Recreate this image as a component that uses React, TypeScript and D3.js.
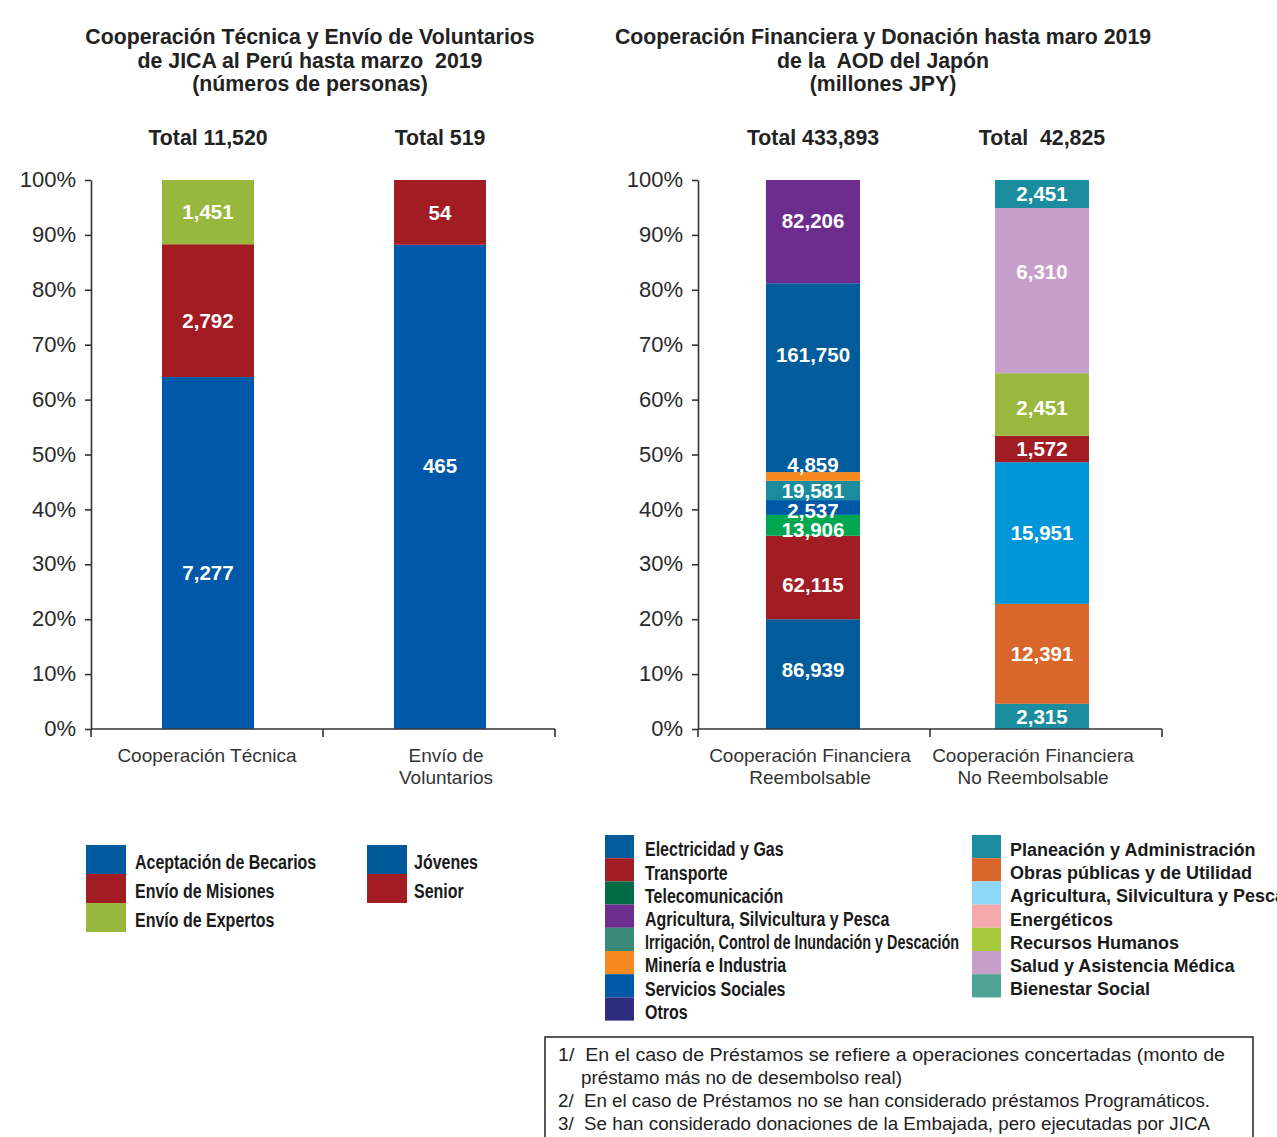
import * as d3 from 'd3'
import React, { useEffect, useRef } from 'react'

// ---- data ----
const leftCategories = ['Cooperación Técnica', 'Envío de Voluntarios']
const leftTotals = ['Total 11,520', 'Total 519']
const tecnicaAmounts = [7277, 2792, 1451]
const tecnicaShares = [64.1, 24.2, 11.7]
const voluntariosAmounts = [465, 54]
const voluntariosShares = [88.2, 11.8]

const rightCategories = ['Cooperación Financiera Reembolsable', 'Cooperación Financiera No Reembolsable']
const rightTotals = ['Total 433,893', 'Total  42,825']
const reembolsableAmounts = [86939, 62115, 13906, 2537, 19581, 4859, 161750, 82206]
const reembolsableShares = [20.0, 15.2, 3.8, 2.7, 3.5, 1.6, 34.4, 18.8]
const noReembolsableAmounts = [2315, 12391, 15951, 1572, 2451, 6310, 2451]
const noReembolsableShares = [4.6, 18.2, 25.8, 4.8, 11.4, 30.1, 5.1]

const yTicks = [0, 10, 20, 30, 40, 50, 60, 70, 80, 90, 100]

const leftLegendA = ['Aceptación de Becarios', 'Envío de Misiones', 'Envío de Expertos']
const leftLegendB = ['Jóvenes', 'Senior']
const rightLegendA = [
    'Electricidad y Gas',
    'Transporte',
    'Telecomunicación',
    'Agricultura, Silvicultura y Pesca',
    'Irrigación, Control de Inundación y Descación',
    'Minería e Industria',
    'Servicios Sociales',
    'Otros',
]
const rightLegendB = [
    'Planeación y Administración',
    'Obras públicas y de Utilidad',
    'Agricultura, Silvicultura y Pesca',
    'Energéticos',
    'Recursos Humanos',
    'Salud y Asistencia Médica',
    'Bienestar Social',
]

const notes = [
    '1/  En el caso de Préstamos se refiere a operaciones concertadas (monto de',
    'préstamo más no de desembolso real)',
    '2/  En el caso de Préstamos no se han considerado préstamos Programáticos.',
    '3/  Se han considerado donaciones de la Embajada, pero ejecutadas por JICA',
]

// ---- colours ----
const tecnicaColors = ['#0059a8', '#a21c23', '#98b83d']
const voluntariosColors = ['#0059a8', '#a21c23']
const reembolsableColors = ['#005c9b', '#a21c23', '#00a650', '#0059a6', '#1b8c9e', '#f6891f', '#005c9b', '#6d2d8e']
const noReembolsableColors = ['#1b8d9f', '#d9662a', '#0096d8', '#a21c23', '#99b83d', '#c79fcb', '#1b8d9f']
const leftLegendAColors = ['#005a9e', '#a21c23', '#98b83d']
const leftLegendBColors = ['#005a9a', '#a21c23']
const rightLegendAColors = ['#005c9b', '#a21c23', '#006b45', '#6d2d8e', '#3a8a7a', '#f6891f', '#0059a6', '#2e2d80']
const rightLegendBColors = ['#1b8d9f', '#d9662a', '#8fd7f6', '#f5a9ab', '#a8c93b', '#c79fcb', '#4fa394']

const FONT = "'Liberation Sans', Arial, Helvetica, sans-serif"
const fmt = d3.format(',')

// label nudges (px) for segments whose number is not centred
const nudges: Record<string, number> = {
    t0: 20,
    t1: 10,
    v0: -21,
    r0: -4,
    r1: 7,
    r2: 5,
    r3: 3,
    r5: -12,
    r6: -23,
    r7: -11,
    n4: 3,
    n5: -19,
}

const yScale = d3.scaleLinear().domain([0, 100]).range([729, 180])

type Bar = { key: string; amounts: number[]; shares: number[]; colors: string[] }

const Panel = (props: {
    x0: number
    x1: number
    bandRange: [number, number]
    barWidth: number
    categories: string[]
    lines: string[][]
    labelShift: number[]
    totals: string[]
    bars: Bar[]
}): JSX.Element => {
    const axisRef = useRef<SVGGElement>(null)
    const step = (props.bandRange[1] - props.bandRange[0]) / 2
    const pi = 1 - props.barWidth / step
    const xScale = d3
        .scaleBand()
        .domain(props.categories)
        .range(props.bandRange)
        .paddingInner(pi)
        .paddingOuter(pi / 2)

    useEffect(() => {
        const g = d3.select(axisRef.current)
        g.selectAll('*').remove()
        g.attr('transform', `translate(${props.x0},0)`).call(
            d3
                .axisLeft(yScale)
                .tickValues(yTicks)
                .tickSize(6)
                .tickSizeOuter(0)
                .tickPadding(9)
                .tickFormat((d) => `${d}%`),
        )
        g.select('.domain').attr('stroke', '#333').attr('stroke-width', 1.6)
        g.selectAll('.tick line').attr('stroke', '#333').attr('stroke-width', 1.6)
        g.selectAll('.tick text')
            .attr('fill', '#2a2a2a')
            .attr('dy', '0.3em')
            .style('font-size', '22px')
            .style('font-family', FONT)
    }, [])

    const mid = (props.x0 + props.x1) / 2
    const bounds = [props.x0, mid, props.x1]

    return (
        <g>
            {props.bars.map((bar, bi) => {
                const cat = props.categories[bi]
                const x = xScale(cat) as number
                const cx = x + xScale.bandwidth() / 2
                const tops = d3.cumsum(bar.shares)
                return (
                    <g key={bar.key}>
                        {bar.shares.map((s, i) => {
                            const yTop = yScale(tops[i])
                            const yBot = yScale(tops[i] - s)
                            return (
                                <rect
                                    key={i}
                                    x={x}
                                    y={yTop}
                                    width={xScale.bandwidth()}
                                    height={yBot - yTop}
                                    fill={bar.colors[i]}
                                />
                            )
                        })}
                        {bar.shares.map((s, i) => {
                            const yMid = yScale(tops[i] - s / 2) + (nudges[`${bar.key}${i}`] || 0)
                            return (
                                <text
                                    key={`l${i}`}
                                    x={cx}
                                    y={yMid}
                                    dy="0.35em"
                                    textAnchor="middle"
                                    fill="#fff"
                                    fontFamily={FONT}
                                    fontWeight="bold"
                                    fontSize={20.5}
                                >
                                    {fmt(bar.amounts[i])}
                                </text>
                            )
                        })}
                        <text
                            x={cx}
                            y={138}
                            dy="0.35em"
                            textAnchor="middle"
                            fill="#222"
                            fontFamily={FONT}
                            fontWeight="bold"
                            fontSize={21.3}
                            style={{ whiteSpace: 'pre' }}
                        >
                            {props.totals[bi]}
                        </text>
                        {props.lines[bi].map((ln, li) => (
                            <text
                                key={`c${li}`}
                                x={cx + props.labelShift[bi]}
                                y={755 + li * 22}
                                dy="0.35em"
                                textAnchor="middle"
                                fill="#333"
                                fontFamily={FONT}
                                fontSize={19}
                            >
                                {ln}
                            </text>
                        ))}
                    </g>
                )
            })}
            <line x1={props.x0} x2={props.x1} y1={729} y2={729} stroke="#333" strokeWidth={1.6} />
            {bounds.map((b) => (
                <line key={b} x1={b} x2={b} y1={729} y2={737} stroke="#333" strokeWidth={1.6} />
            ))}
            <g ref={axisRef} />
        </g>
    )
}

const Title = (props: { x: number; lines: string[] }): JSX.Element => (
    <g>
        {props.lines.map((ln, i) => (
            <text
                key={i}
                x={props.x}
                y={37 + i * 23.5}
                dy="0.35em"
                textAnchor="middle"
                fill="#222"
                fontFamily={FONT}
                fontWeight="bold"
                fontSize={21.3}
                style={{ whiteSpace: 'pre' }}
            >
                {ln}
            </text>
        ))}
    </g>
)

const Legend = (props: {
    x: number
    y: number
    items: string[]
    colors: string[]
    sw: number
    rowH: number
    gap: number
    narrow: boolean
    size: number
    fitWidths?: Record<number, number>
}): JSX.Element => {
    const sx = props.narrow ? 0.82 : 1
    return (
        <g>
            {props.items.map((it, i) => {
                const tx = props.x + props.sw + props.gap
                const ty = props.y + i * props.rowH + props.rowH / 2 + 3
                const fit = props.fitWidths && props.fitWidths[i]
                return (
                    <g key={i}>
                        <rect
                            x={props.x}
                            y={props.y + i * props.rowH}
                            width={props.sw}
                            height={props.rowH}
                            fill={props.colors[i]}
                        />
                        <text
                            transform={`translate(${tx},${ty}) scale(${sx},1)`}
                            dy="0.35em"
                            fill="#1a1a1a"
                            fontFamily={FONT}
                            fontWeight="bold"
                            fontSize={props.size}
                            textLength={fit ? fit / sx : undefined}
                            lengthAdjust={fit ? 'spacingAndGlyphs' : undefined}
                        >
                            {it}
                        </text>
                    </g>
                )
            })}
        </g>
    )
}

const App = (): JSX.Element => {
    return (
        <svg
            width={1277}
            height={1137}
            style={{ position: 'absolute', left: 0, top: 0, background: '#fff' }}
        >
            <Title
                x={310}
                lines={['Cooperación Técnica y Envío de Voluntarios', 'de JICA al Perú hasta marzo  2019', '(números de personas)']}
            />
            <Title
                x={883}
                lines={['Cooperación Financiera y Donación hasta maro 2019', 'de la  AOD del Japón', '(millones JPY)']}
            />
            <Panel
                x0={91}
                x1={555}
                bandRange={[92, 556]}
                barWidth={92}
                categories={leftCategories}
                lines={[['Cooperación Técnica'], ['Envío de', 'Voluntarios']]}
                labelShift={[-1, 6]}
                totals={leftTotals}
                bars={[
                    { key: 't', amounts: tecnicaAmounts, shares: tecnicaShares, colors: tecnicaColors },
                    { key: 'v', amounts: voluntariosAmounts, shares: voluntariosShares, colors: voluntariosColors },
                ]}
            />
            <Panel
                x0={698}
                x1={1162}
                bandRange={[698.5, 1156.5]}
                barWidth={94}
                categories={rightCategories}
                lines={[['Cooperación Financiera', 'Reembolsable'], ['Cooperación Financiera', 'No Reembolsable']]}
                labelShift={[-3, -9]}
                totals={rightTotals}
                bars={[
                    { key: 'r', amounts: reembolsableAmounts, shares: reembolsableShares, colors: reembolsableColors },
                    { key: 'n', amounts: noReembolsableAmounts, shares: noReembolsableShares, colors: noReembolsableColors },
                ]}
            />
            <Legend x={86} y={845} items={leftLegendA} colors={leftLegendAColors} sw={40} rowH={29} gap={9} narrow size={19.5} />
            <Legend x={367} y={845} items={leftLegendB} colors={leftLegendBColors} sw={40} rowH={29} gap={7} narrow size={19.5} />
            <Legend
                x={605}
                y={835}
                items={rightLegendA}
                colors={rightLegendAColors}
                sw={29}
                rowH={23.2}
                gap={11}
                narrow
                size={19.5}
                fitWidths={{ 4: 314 }}
            />
            <Legend x={972} y={835} items={rightLegendB} colors={rightLegendBColors} sw={29} rowH={23.2} gap={9} narrow={false} size={18} />
            <rect x={545} y={1037} width={708} height={120} fill="none" stroke="#222" strokeWidth={1.5} />
            {notes.map((n, i) => (
                <text
                    key={i}
                    x={i === 1 ? 581 : 558}
                    y={1055 + i * 23}
                    dy="0.35em"
                    fill="#222"
                    fontFamily={FONT}
                    fontSize={18}
                    textLength={i === 0 ? 667 : i === 1 ? 321 : 652}
                    lengthAdjust="spacingAndGlyphs"
                    style={{ whiteSpace: 'pre' }}
                >
                    {n}
                </text>
            ))}
        </svg>
    )
}

export default App
